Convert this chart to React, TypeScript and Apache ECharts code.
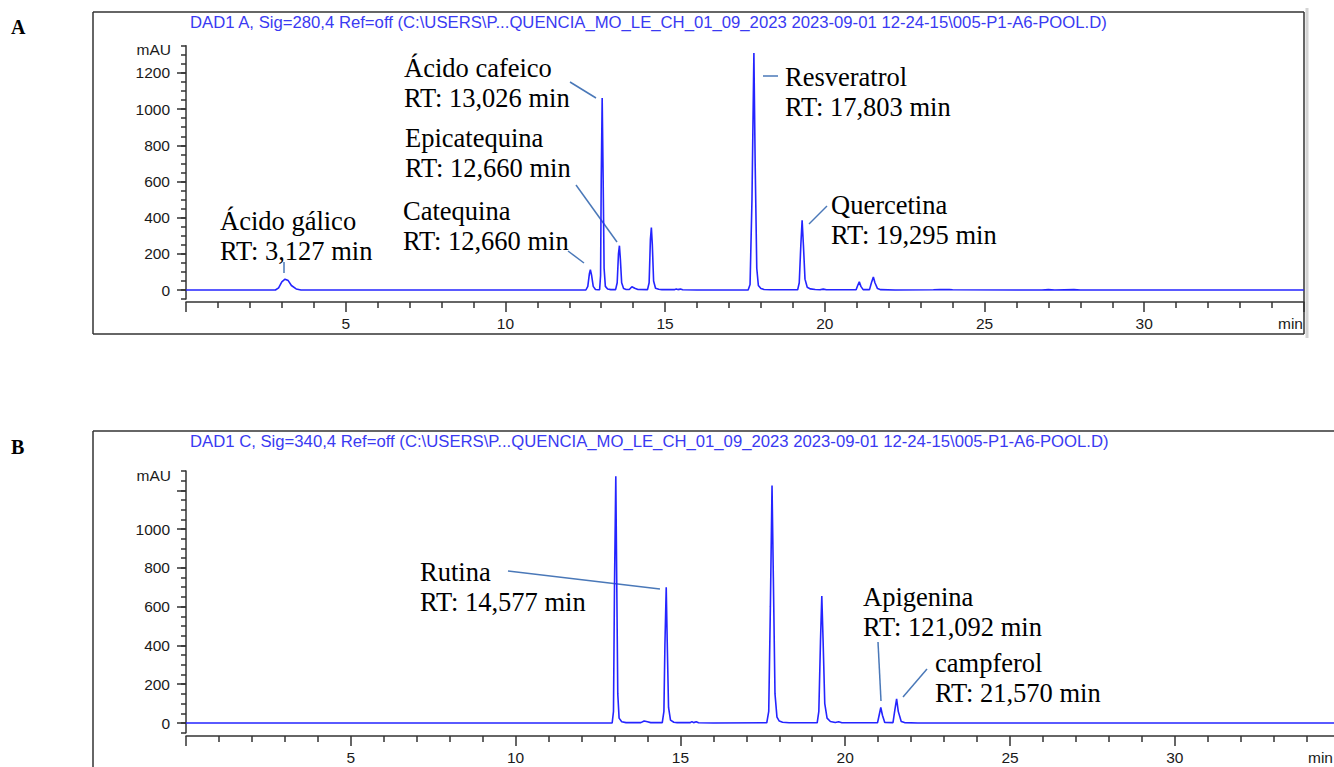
import React, { useEffect, useRef } from 'react';
import * as echarts from 'echarts';

// ---------- text ----------
const titleA = 'DAD1 A, Sig=280,4 Ref=off (C:\\USERS\\P...QUENCIA_MO_LE_CH_01_09_2023 2023-09-01 12-24-15\\005-P1-A6-POOL.D)';
const titleB = 'DAD1 C, Sig=340,4 Ref=off (C:\\USERS\\P...QUENCIA_MO_LE_CH_01_09_2023 2023-09-01 12-24-15\\005-P1-A6-POOL.D)';
const yUnit = 'mAU';
const xUnit = 'min';

// ---------- axis ranges / ticks ----------
const xRange = [0, 35];
const xMajorStep = 5;          // labelled ticks 5 … 30
const xMinorSplit = 5;         // one tick per minute
const yMinorStep = 50;
const yMajorStep = 200;
const yRangeA = [-50, 1350];   // full axis of panel A
const yMajorRangeA = [0, 1200];
const yRangeB = [-50, 1300];   // full axis of panel B
const yMajorRangeB = [0, 1200];
const yLabelMaxB = 1000;       // panel B has no "1200" label

// ---------- signals (time min, mAU) ----------
const signalA: [number, number][] = [
  [0, 0], [2.8, 0], [2.9, 12], [3.0, 45], [3.1, 60], [3.2, 52], [3.3, 25], [3.45, 6], [3.6, 0],
  [12.52, 0], [12.58, 20], [12.63, 90], [12.66, 112], [12.7, 80], [12.75, 20], [12.82, 3], [12.9, 1],
  [12.95, 2], [12.98, 80], [13.0, 600], [13.03, 1062], [13.06, 620], [13.09, 120], [13.13, 20], [13.2, 6], [13.3, 2],
  [13.45, 2], [13.5, 40], [13.54, 200], [13.57, 245], [13.6, 170], [13.64, 40], [13.7, 8], [13.78, 3],
  [13.88, 3], [13.96, 18], [14.05, 10], [14.15, 3],
  [14.45, 2], [14.5, 40], [14.54, 280], [14.57, 345], [14.6, 250], [14.64, 50], [14.7, 10], [14.8, 4], [14.9, 2],
  [15.3, 2], [15.35, 6], [15.4, 2], [15.48, 5], [15.55, 1],
  [16.0, 0], [17.6, 0], [17.66, 30], [17.72, 500], [17.78, 1310], [17.82, 700], [17.87, 120], [17.92, 25], [18.0, 8], [18.1, 3], [18.3, 1],
  [19.15, 1], [19.2, 40], [19.25, 250], [19.29, 385], [19.33, 250], [19.38, 60], [19.45, 15], [19.55, 6], [19.7, 3], [19.85, 1], [19.95, 5], [20.05, 1],
  [20.98, 1], [21.03, 25], [21.08, 45], [21.13, 20], [21.2, 2],
  [21.4, 2], [21.46, 40], [21.52, 72], [21.57, 40], [21.65, 8], [21.75, 2],
  [22.2, 0], [23.4, 1], [23.6, 2], [23.9, 3], [24.0, 1], [26.8, 0], [27.0, 2], [27.2, 0], [27.8, 2], [28.0, 0], [35, 0]
];

const signalB: [number, number][] = [
  [0, 0], [12.93, 0], [12.97, 60], [13.0, 700], [13.04, 1272], [13.07, 700], [13.1, 150], [13.14, 25], [13.22, 6], [13.35, 2],
  [13.8, 2], [13.9, 10], [14.0, 6], [14.1, 2],
  [14.45, 2], [14.5, 60], [14.53, 400], [14.57, 700], [14.6, 420], [14.64, 80], [14.7, 15], [14.8, 4], [14.9, 2],
  [15.3, 2], [15.35, 7], [15.4, 2], [15.48, 6], [15.55, 1],
  [16.0, 0], [17.62, 1], [17.68, 60], [17.73, 600], [17.78, 1225], [17.82, 750], [17.87, 150], [17.93, 30], [18.0, 10], [18.1, 4], [18.3, 1],
  [19.15, 1], [19.2, 60], [19.25, 420], [19.29, 655], [19.33, 420], [19.38, 100], [19.45, 25], [19.55, 8], [19.7, 3], [19.8, 6], [19.9, 1],
  [20.98, 1], [21.03, 40], [21.08, 80], [21.13, 40], [21.2, 3],
  [21.45, 2], [21.5, 60], [21.56, 125], [21.61, 60], [21.7, 8], [21.8, 2],
  [22.2, 0], [35, 0]
];

// ---------- annotations (layout) ----------
const annotations = [
  { text: 'Ácido gálico\nRT: 3,127 min', x: 220, y: 206 },
  { text: 'Catequina\nRT: 12,660 min', x: 403, y: 196 },
  { text: 'Epicatequina\nRT: 12,660 min', x: 405, y: 123 },
  { text: 'Ácido cafeico\nRT: 13,026 min', x: 404, y: 53 },
  { text: 'Resveratrol\nRT: 17,803 min', x: 785, y: 62 },
  { text: 'Quercetina\nRT: 19,295 min', x: 831, y: 190 },
  { text: 'Rutina\nRT: 14,577 min', x: 420, y: 557 },
  { text: 'Apigenina\nRT: 121,092 min', x: 863, y: 582 },
  { text: 'campferol\nRT: 21,570 min', x: 935, y: 648 }
];
const leaders = [
  [284, 262, 284, 273],
  [568, 251, 584, 263],
  [576, 185, 617, 242],
  [570, 82, 596, 98],
  [763, 76, 778, 76],
  [809, 224, 827, 206],
  [508, 571, 660, 589],
  [878, 642, 881, 701],
  [927, 669, 903, 697]
];

// ---------- layout (pixels) ----------
const W = 1334, H = 767;
const PLOT_LEFT = 186;
// panel A: value 0 at y=290, 0.18086 px per mAU, x axis line at y=302, 31.94 px/min
const A = { zeroY: 290, s: 0.18086, axisY: 302, pxPerMin: 31.94 };
// panel B: value 0 at y=723, 0.19394 px per mAU, x axis line at y=736, 32.96 px/min
const B = { zeroY: 723, s: 0.19394, axisY: 736, pxPerMin: 32.96 };

const AXIS_COLOR = '#333';
const LABEL = { color: '#1a1a1a', fontSize: 15.5, fontFamily: 'Liberation Sans' };

export default function App() {
  const ref = useRef<HTMLDivElement>(null);
  useEffect(() => {
    if (!ref.current) return;
    const chart = echarts.init(ref.current, null, { renderer: 'svg' });
    const lineColor = '#2424ff';
    const axisLineStyle = { color: AXIS_COLOR, width: 1.5 };

    const gridFor = (p: { zeroY: number; s: number; pxPerMin: number }, lo: number, hi: number) => {
      const top = p.zeroY - hi * p.s;
      const bottomY = p.zeroY - lo * p.s;
      return {
        left: PLOT_LEFT,
        top,
        width: (xRange[1] - xRange[0]) * p.pxPerMin,
        height: bottomY - top,
        containLabel: false,
        outerBoundsMode: 'none'
      };
    };

    const grids = [
      gridFor(A, yRangeA[0], yRangeA[1]),
      gridFor(A, yMajorRangeA[0], yMajorRangeA[1]),
      gridFor(B, yRangeB[0], yRangeB[1]),
      gridFor(B, yMajorRangeB[0], yMajorRangeB[1])
    ];
    const xOffsetA = A.axisY - (A.zeroY - yRangeA[0] * A.s);
    const xOffsetB = B.axisY - (B.zeroY - yRangeB[0] * B.s);

    const mainX = (gridIndex: number, offset: number) => ({
      type: 'value', gridIndex, min: xRange[0], max: xRange[1], interval: xMajorStep, position: 'bottom', offset,
      axisLine: { show: true, onZero: false, lineStyle: axisLineStyle },
      axisTick: { show: true, length: 10, lineStyle: axisLineStyle },
      minorTick: { show: true, splitNumber: xMinorSplit, length: 6, lineStyle: axisLineStyle },
      axisLabel: { show: true, margin: 13, ...LABEL, formatter: (v: number) => (v > xRange[0] && v < xRange[1] ? String(v) : '') },
      splitLine: { show: false }, minorSplitLine: { show: false }
    });
    const hiddenX = (gridIndex: number) => ({ type: 'value', gridIndex, min: xRange[0], max: xRange[1], show: false });
    const minorY = (gridIndex: number, r: number[]) => ({
      type: 'value', gridIndex, min: r[0], max: r[1], interval: yMinorStep, position: 'left',
      axisLine: { show: true, onZero: false, lineStyle: axisLineStyle },
      axisTick: { show: true, length: 5, lineStyle: axisLineStyle },
      axisLabel: { show: false },
      splitLine: { show: false }
    });
    const majorY = (gridIndex: number, r: number[], labelMax: number) => ({
      type: 'value', gridIndex, min: r[0], max: r[1], interval: yMajorStep, position: 'left',
      axisLine: { show: false, onZero: false },
      axisTick: { show: true, length: 9, lineStyle: axisLineStyle },
      axisLabel: { show: true, margin: 16, ...LABEL, formatter: (v: number) => (v <= labelMax ? String(v) : '') },
      splitLine: { show: false }
    });

    const graphics: any[] = [
      // frames
      { type: 'line', shape: { x1: 93, y1: 12, x2: 1304, y2: 12 }, style: { stroke: '#333', lineWidth: 1.5 } },
      { type: 'line', shape: { x1: 93, y1: 12, x2: 93, y2: 334 }, style: { stroke: '#333', lineWidth: 1.5 } },
      { type: 'line', shape: { x1: 1304, y1: 12, x2: 1304, y2: 334 }, style: { stroke: '#333', lineWidth: 1.5 } },
      { type: 'line', shape: { x1: 93, y1: 334, x2: 1304, y2: 334 }, style: { stroke: '#333', lineWidth: 1.5 } },
      { type: 'line', shape: { x1: 1307, y1: 8, x2: 1307, y2: 338 }, style: { stroke: '#d4d4d4', lineWidth: 3 } },
      { type: 'line', shape: { x1: 93, y1: 431, x2: 1334, y2: 431 }, style: { stroke: '#333', lineWidth: 1.5 } },
      { type: 'line', shape: { x1: 93, y1: 431, x2: 93, y2: 767 }, style: { stroke: '#333', lineWidth: 1.5 } },
      // titles
      { type: 'text', x: 190, y: 22, style: { text: titleA, fill: '#3a3af2', font: '16.7px "Liberation Sans"', verticalAlign: 'middle' } },
      { type: 'text', x: 190, y: 441, style: { text: titleB, fill: '#3a3af2', font: '16.7px "Liberation Sans"', verticalAlign: 'middle' } },
      // panel letters
      { type: 'text', x: 11, y: 27, style: { text: 'A', fill: '#000', font: 'bold 20px "Liberation Serif"', verticalAlign: 'middle' } },
      { type: 'text', x: 11, y: 447, style: { text: 'B', fill: '#000', font: 'bold 20px "Liberation Serif"', verticalAlign: 'middle' } },
      // axis units
      { type: 'text', x: 171, y: 49, style: { text: yUnit, fill: '#1a1a1a', font: '15.5px "Liberation Sans"', align: 'right', verticalAlign: 'middle' } },
      { type: 'text', x: 171, y: 475, style: { text: yUnit, fill: '#1a1a1a', font: '15.5px "Liberation Sans"', align: 'right', verticalAlign: 'middle' } },
      { type: 'text', x: 1303, y: 323, style: { text: xUnit, fill: '#1a1a1a', font: '15.5px "Liberation Sans"', align: 'right', verticalAlign: 'middle' } },
      { type: 'text', x: 1333, y: 757, style: { text: xUnit, fill: '#1a1a1a', font: '15.5px "Liberation Sans"', align: 'right', verticalAlign: 'middle' } }
    ];
    leaders.forEach(([x1, y1, x2, y2]) => {
      graphics.push({ type: 'line', shape: { x1, y1, x2, y2 }, style: { stroke: '#4a78b8', lineWidth: 1.5 } });
    });
    annotations.forEach((a) => {
      graphics.push({
        type: 'text', x: a.x, y: a.y,
        style: { text: a.text, fill: '#000', font: '26.5px "Liberation Serif"', lineHeight: 30, verticalAlign: 'top' }
      });
    });

    chart.setOption({
      animation: false,
      backgroundColor: '#fff',
      grid: grids,
      xAxis: [mainX(0, xOffsetA), hiddenX(1), mainX(2, xOffsetB), hiddenX(3)],
      yAxis: [
        minorY(0, yRangeA),
        majorY(1, yMajorRangeA, yMajorRangeA[1]),
        minorY(2, yRangeB),
        majorY(3, yMajorRangeB, yLabelMaxB)
      ],
      series: [
        { type: 'line', xAxisIndex: 0, yAxisIndex: 0, data: signalA, showSymbol: false, symbol: 'none', lineStyle: { color: lineColor, width: 1.6 } },
        { type: 'line', xAxisIndex: 1, yAxisIndex: 1, data: [], showSymbol: false, symbol: 'none' },
        { type: 'line', xAxisIndex: 2, yAxisIndex: 2, data: signalB, showSymbol: false, symbol: 'none', lineStyle: { color: lineColor, width: 1.6 } },
        { type: 'line', xAxisIndex: 3, yAxisIndex: 3, data: [], showSymbol: false, symbol: 'none' }
      ],
      graphic: graphics
    });
    return () => chart.dispose();
  }, []);
  return <div ref={ref} style={{ position: 'absolute', left: 0, top: 0, width: W, height: H }} />;
}
